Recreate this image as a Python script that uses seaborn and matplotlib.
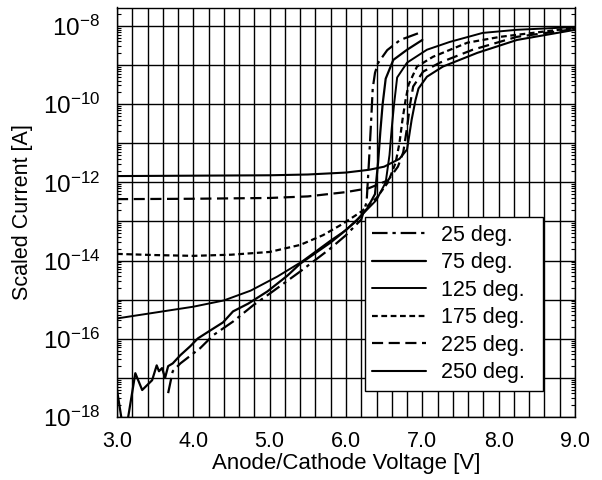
import numpy as np
import pandas as pd
import matplotlib
matplotlib.use("Agg")
import matplotlib.pyplot as plt
import matplotlib.ticker as mticker
import seaborn as sns

# ---- data (voltage [V], log10 of scaled current [A]) ----
v_25 = [3.67, 3.73, 3.83, 4.09, 4.26, 4.52, 4.78, 5.04, 5.40, 5.79, 6.00, 6.20, 6.27,
        6.30, 6.33, 6.35, 6.38, 6.42, 6.54, 6.71, 7.00]
l_25 = [-17.39, -16.83, -16.63, -16.24, -15.91, -15.56, -15.15, -14.79, -14.28, -13.70,
        -13.35, -12.95, -12.50, -11.50, -10.40, -9.60, -9.20, -8.95, -8.62, -8.36, -8.15]

v_75 = [3.00, 3.08, 3.13, 3.24, 3.33, 3.46, 3.52, 3.55, 3.59, 3.63, 3.67, 3.73, 3.83,
        3.96, 4.06, 4.22, 4.39, 4.52, 4.72, 4.97, 5.23, 5.40, 5.79, 5.95, 6.14, 6.28,
        6.38, 6.42, 6.45, 6.48, 6.52, 6.62, 6.80, 7.00]
l_75 = [-17.31, -18.30, -18.20, -16.88, -17.31, -17.06, -16.68, -16.83, -16.75, -17.00,
        -16.70, -16.63, -16.42, -16.19, -15.99, -15.79, -15.58, -15.30, -15.10, -14.79,
        -14.39, -14.08, -13.55, -13.30, -12.98, -12.66, -12.30, -11.50, -10.70, -10.00,
        -9.35, -8.87, -8.61, -8.36]

v_125 = [3.00, 4.00, 4.40, 4.75, 5.10, 5.42, 5.79, 6.00, 6.20, 6.40, 6.52, 6.57, 6.60,
         6.63, 6.67, 6.80, 7.06, 7.36, 7.79, 8.24, 9.00]
l_125 = [-15.48, -15.18, -15.02, -14.77, -14.41, -14.03, -13.50, -13.22, -12.85, -12.45,
         -12.00, -11.30, -10.60, -10.00, -9.32, -8.94, -8.61, -8.41, -8.18, -8.10, -8.03]

v_175 = [3.00, 3.50, 4.00, 4.50, 5.00, 5.40, 5.70, 5.95, 6.20, 6.40, 6.55, 6.65, 6.70,
         6.74, 6.78, 6.82, 6.93, 7.14, 7.59, 8.02, 9.00]
l_175 = [-13.83, -13.86, -13.88, -13.85, -13.78, -13.60, -13.35, -13.07, -12.75, -12.40,
         -12.00, -11.50, -11.00, -10.40, -9.90, -9.50, -9.04, -8.79, -8.43, -8.28, -8.05]

v_225 = [3.00, 4.00, 5.00, 5.50, 6.00, 6.30, 6.55, 6.68, 6.75, 6.80, 6.84, 6.88, 7.01,
         7.23, 7.66, 8.24, 9.00]
l_225 = [-12.43, -12.42, -12.40, -12.36, -12.25, -12.15, -11.95, -11.60, -11.23, -10.60,
         -10.00, -9.55, -9.17, -8.94, -8.61, -8.28, -8.08]

v_250 = [3.00, 4.00, 5.00, 5.50, 6.00, 6.30, 6.50, 6.70, 6.80, 6.86, 6.91, 6.95, 7.06,
         7.27, 7.72, 8.24, 9.00]
l_250 = [-11.84, -11.83, -11.82, -11.80, -11.75, -11.68, -11.60, -11.40, -11.16, -10.40,
         -9.90, -9.60, -9.30, -9.04, -8.69, -8.36, -8.10]

labels = ["25 deg.", "75 deg.", "125 deg.", "175 deg.", "225 deg.", "250 deg."]
x_ticks = [3.0, 4.0, 5.0, 6.0, 7.0, 8.0, 9.0]
y_decades = list(range(-18, -7))

series = [(v_25, l_25), (v_75, l_75), (v_125, l_125),
          (v_175, l_175), (v_225, l_225), (v_250, l_250)]

frames = []
for lab, (v, l) in zip(labels, series):
    frames.append(pd.DataFrame({"V": v, "I": 10.0 ** np.array(l), "T": lab}))
df = pd.concat(frames, ignore_index=True)

# ---- style ----
sns.set_theme(style="white")
plt.rcParams["font.family"] = ["Liberation Sans", "DejaVu Sans"]
plt.rcParams["mathtext.fontset"] = "custom"
plt.rcParams["mathtext.rm"] = "Liberation Sans"
plt.rcParams["mathtext.it"] = "Liberation Sans:italic"
plt.rcParams["mathtext.bf"] = "Liberation Sans:bold"

fig = plt.figure(figsize=(6.02, 4.80), dpi=100)
ax = fig.add_axes([117 / 602, 1 - 417 / 480, 458 / 602, 409.5 / 480])

dash_map = {
    "25 deg.": (7, 2.2, 1.5, 2.2),
    "75 deg.": "",
    "125 deg.": "",
    "175 deg.": (2.6, 1.6),
    "225 deg.": (5, 2.5),
    "250 deg.": "",
}
lw_map = {"25 deg.": 1.6, "75 deg.": 1.6, "125 deg.": 1.4,
          "175 deg.": 1.6, "225 deg.": 1.6, "250 deg.": 1.5}

for lab in labels:
    sub = df[df["T"] == lab]
    sns.lineplot(data=sub, x="V", y="I", ax=ax, color="black", sort=False,
                 estimator=None, lw=lw_map[lab], label=lab, dashes=False)
    line = ax.lines[-1]
    if dash_map[lab]:
        line.set_dashes(dash_map[lab])

ax.set_yscale("log")
ax.set_xlim(3.0, 9.0)
ax.set_ylim(1e-18, 2.95e-8)

ax.set_xticks(x_ticks)
ax.set_xticklabels([f"{t:.1f}" for t in x_ticks])
ax.xaxis.set_minor_locator(mticker.MultipleLocator(0.2))
ax.set_yticks([10.0 ** d for d in y_decades])
ax.set_yticklabels([("$10^{%d}$" % d) if d % 2 == 0 else "" for d in y_decades])
ax.yaxis.set_minor_locator(mticker.LogLocator(base=10, subs=np.arange(2, 10), numticks=30))
ax.yaxis.set_minor_formatter(mticker.NullFormatter())

ax.xaxis.grid(True, which="major", color="black", lw=1.0)
ax.xaxis.grid(True, which="minor", color="black", lw=1.0)
ax.yaxis.grid(True, which="major", color="black", lw=1.0)
ax.yaxis.grid(False, which="minor")
ax.set_axisbelow(True)

# the faint dash-dot grid line at 3.6 V seen in the scan
for tk in ax.xaxis.get_minor_ticks():
    if abs(tk.get_loc() - 3.6) < 1e-6:
        tk.gridline.set_linestyle((0, (4, 2, 1, 2)))
        tk.gridline.set_color("#777777")

ax.tick_params(axis="both", which="both", direction="in", top=True, right=True,
               color="black", labelcolor="black")
ax.tick_params(axis="x", which="both", length=0, labelsize=15.5, pad=10)
ax.tick_params(axis="y", which="major", length=0, labelsize=17.5, pad=12)
ax.tick_params(axis="y", which="minor", length=3, width=0.8, left=True, right=True)

for s in ax.spines.values():
    s.set_color("black")
    s.set_linewidth(1.0)

ax.set_xlabel("Anode/Cathode Voltage [V]", fontsize=16, labelpad=1, color="black")
ax.set_ylabel("Scaled Current [A]", fontsize=15.5, labelpad=7, color="black")

leg = ax.legend(loc="lower left", bbox_to_anchor=(0.541, 0.064, 0.389, 0.401),
                mode="expand", borderaxespad=0.0, frameon=True, fontsize=15.5,
                handlelength=2.5, handletextpad=0.7, labelspacing=0.3,
                borderpad=0.35, fancybox=False, framealpha=1.0, edgecolor="black")
leg.get_frame().set_linewidth(1.0)
for t in leg.get_texts():
    t.set_color("black")

fig.savefig("out.png", dpi=100)
